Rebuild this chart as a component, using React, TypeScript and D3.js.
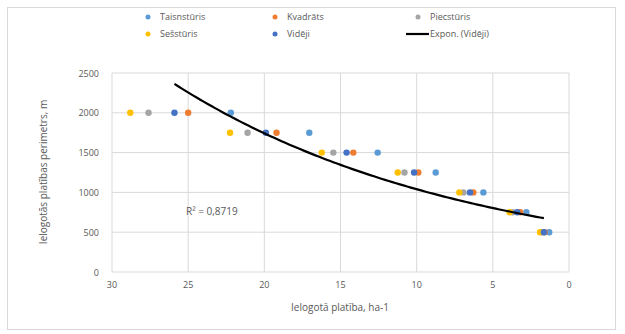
import React from "react";
import * as d3 from "d3";

const yLevels = [2000, 1750, 1500, 1250, 1000, 750, 500];
const taisnsturis = [22.2, 17.05, 12.56, 8.75, 5.62, 2.8, 1.3];
const kvadrats = [25.0, 19.2, 14.16, 9.89, 6.28, 3.2, 1.6];
const piecsturis = [27.6, 21.1, 15.47, 10.8, 6.93, 3.7, 1.8];
const sessturis = [28.8, 22.25, 16.23, 11.24, 7.2, 3.9, 1.9];
const videji = [25.9, 19.9, 14.6, 10.17, 6.5, 3.4, 1.65];
const xTicks = [30, 25, 20, 15, 10, 5, 0];
const yTicks = [0, 500, 1000, 1500, 2000, 2500];
const seriesNames = ["Taisnstūris", "Kvadrāts", "Piecstūris", "Sešstūris", "Vidēji"];
const seriesColors = ["#5B9BD5", "#ED7D31", "#A5A5A5", "#FFC000", "#4472C4"];
const trendName = "Expon. (Vidēji)";
const r2Label = "R² = 0,8719";
const xTitle = "Ielogotā platība, ha-1";
const yTitle = "Ielogotās platības perimetrs, m";

export default function App() {
  const W = 625, H = 334;
  const x = d3.scaleLinear().domain([30, 0]).range([112, 569]);
  const y = d3.scaleLinear().domain([0, 2500]).range([272, 73]);
  const all = [taisnsturis, kvadrats, piecsturis, sessturis, videji];

  // exponential fit on Vidēji
  const lx = videji;
  const ly = yLevels.map((v) => Math.log(v));
  const mx = d3.mean(lx) as number;
  const my = d3.mean(ly) as number;
  let sxy = 0, sxx = 0;
  lx.forEach((v, i) => { sxy += (v - mx) * (ly[i] - my); sxx += (v - mx) * (v - mx); });
  const b = sxy / sxx;
  const a = Math.exp(my - b * mx);
  const [xmin, xmax] = d3.extent(videji) as [number, number];
  const trendPts = d3.range(0, 101).map((i) => {
    const xv = xmin + ((xmax - xmin) * i) / 100;
    return [xv, a * Math.exp(b * xv)] as [number, number];
  });
  const line = d3.line<[number, number]>().x((d) => x(d[0])).y((d) => y(d[1]));

  const font = "'Open Sans', 'Liberation Sans', sans-serif";
  const txt = "#595959";
  const legendPos = [
    [148, 17], [275, 17], [418, 17], [148, 34], [275, 34],
  ];

  return (
    <svg width={W} height={H} style={{ position: "absolute", left: 0, top: 0 }} fontFamily={font}>
      <rect x={0} y={0} width={W} height={H} fill="#fff" />
      <rect x={7.5} y={7.5} width={608} height={322} fill="#fff" stroke="#d9d9d9" />
      {yTicks.map((t) => (
        <line key={"gy" + t} x1={112} x2={569} y1={y(t)} y2={y(t)} stroke="#d9d9d9" />
      ))}
      {xTicks.map((t) => (
        <line key={"gx" + t} x1={x(t)} x2={x(t)} y1={73} y2={272} stroke="#d9d9d9" />
      ))}
      {yTicks.map((t) => (
        <text key={"ty" + t} x={99} y={y(t) + 3.5} fontSize={9} fill={txt} textAnchor="end">{t}</text>
      ))}
      {xTicks.map((t) => (
        <text key={"tx" + t} x={x(t)} y={288} fontSize={9} fill={txt} textAnchor="middle">{t}</text>
      ))}
      <text x={340} y={311} fontSize={10} fill={txt} textAnchor="middle">{xTitle}</text>
      <text transform={`translate(47,172) rotate(-90)`} fontSize={10} fill={txt} textAnchor="middle">{yTitle}</text>
      {all.map((s, si) =>
        s.map((v, i) => (
          <circle key={si + "-" + i} cx={x(v)} cy={y(yLevels[i])} r={3.2} fill={seriesColors[si]} />
        ))
      )}
      <path d={line(trendPts) || ""} fill="none" stroke="#000" strokeWidth={2.2} />
      <text x={186} y={215} fontSize={10} fill={txt}>{r2Label}</text>
      {seriesNames.map((n, i) => (
        <g key={n}>
          <circle cx={legendPos[i][0]} cy={legendPos[i][1]} r={2.5} fill={seriesColors[i]} />
          <text x={legendPos[i][0] + 12} y={legendPos[i][1] + 3} fontSize={9} fill={txt}>{n}</text>
        </g>
      ))}
      <line x1={406} x2={429} y1={34} y2={34} stroke="#000" strokeWidth={2.2} />
      <text x={430} y={37} fontSize={9} fill={txt}>{trendName}</text>
    </svg>
  );
}
